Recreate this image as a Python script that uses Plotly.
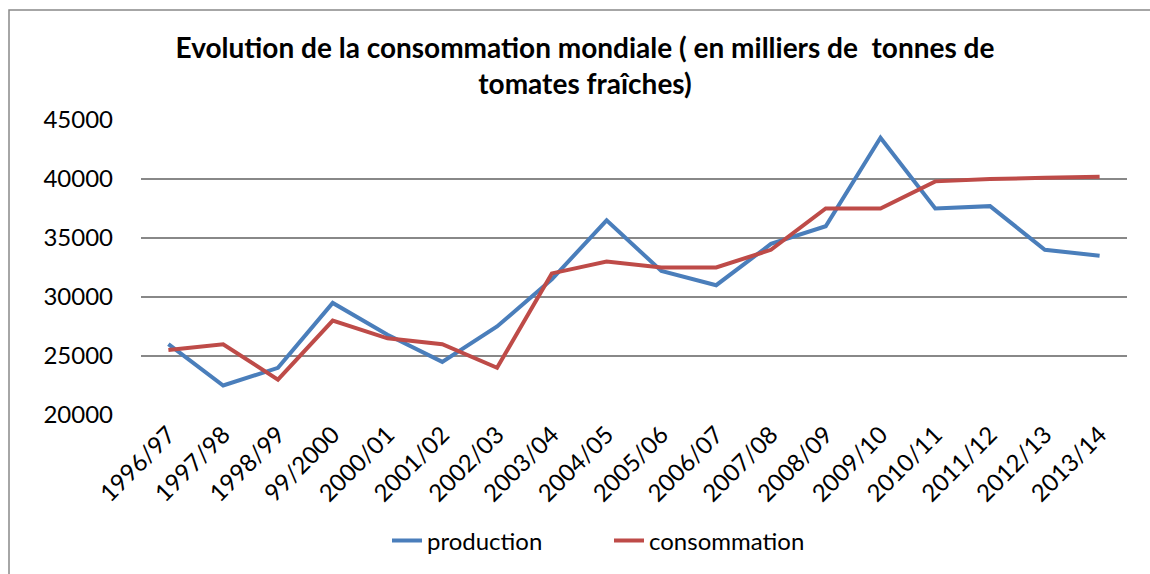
import plotly.graph_objects as go

categories = ["1996/97", "1997/98", "1998/99", "99/2000", "2000/01", "2001/02", "2002/03",
              "2003/04", "2004/05", "2005/06", "2006/07", "2007/08", "2008/09", "2009/10",
              "2010/11", "2011/12", "2012/13", "2013/14"]
production = [26000, 22500, 24000, 29500, 26800, 24500, 27500, 31500, 36500, 32200,
              31000, 34500, 36000, 43500, 37500, 37700, 34000, 33500]
consommation = [25500, 26000, 23000, 28000, 26500, 26000, 24000, 32000, 33000, 32500,
                32500, 34000, 37500, 37500, 39800, 40000, 40100, 40200]
y_ticks = [20000, 25000, 30000, 35000, 40000, 45000]

FONT = "Lato"
W, H = 1150, 574
L, R, T, B = 141, 23, 120, 159
pw, ph = W - L - R, H - T - B

fig = go.Figure()
fig.add_trace(go.Scatter(x=categories, y=production, mode="lines", name="production",
                         line=dict(color="#4A7EBB", width=4)))
fig.add_trace(go.Scatter(x=categories, y=consommation, mode="lines", name="consommation",
                         line=dict(color="#BE4B48", width=4)))

def px_x(p):
    return (p - L) / pw

def px_y(p):
    return (H - B - p) / ph

fig.add_shape(type="rect", xref="paper", yref="paper",
              x0=px_x(9), x1=px_x(1200), y0=px_y(620), y1=px_y(10),
              line=dict(color="#898989", width=1.5), fillcolor="rgba(0,0,0,0)", layer="below")

fig.update_layout(
    width=W, height=H,
    margin=dict(l=L, r=R, t=T, b=B, autoexpand=False),
    paper_bgcolor="white", plot_bgcolor="white",
    font=dict(family=FONT, size=24, color="black"),
    title=dict(text="<b>Evolution de la consommation mondiale ( en milliers de  tonnes de<br>tomates fraîches)</b>",
               x=585 / W, xanchor="center", y=1 - 58 / H, yanchor="top",
               font=dict(family=FONT, size=28, color="black")),
    showlegend=True,
    legend=dict(orientation="h", x=387 / W, xref="container", xanchor="left",
                y=1 - 541 / H, yref="container", yanchor="middle",
                entrywidth=177, entrywidthmode="pixels",
                font=dict(family=FONT, size=24, color="black"), bgcolor="rgba(0,0,0,0)"),
    xaxis=dict(type="category", range=[-0.5, len(categories) - 0.5], tickangle=-45,
               showgrid=False, showline=False, zeroline=False, ticks="", automargin=False,
               tickfont=dict(family=FONT, size=24, color="black")),
    yaxis=dict(range=[20000, 45000], tickvals=y_ticks, ticktext=[str(v) for v in y_ticks],
               showgrid=True, gridcolor="#888888", gridwidth=1.5, zeroline=False,
               showline=False, ticks="", ticklabelstandoff=27, automargin=False,
               tickfont=dict(family=FONT, size=24, color="black")),
)

fig.write_html("out.html", config={"displayModeBar": False},
               post_script="document.body.style.margin='0';")
